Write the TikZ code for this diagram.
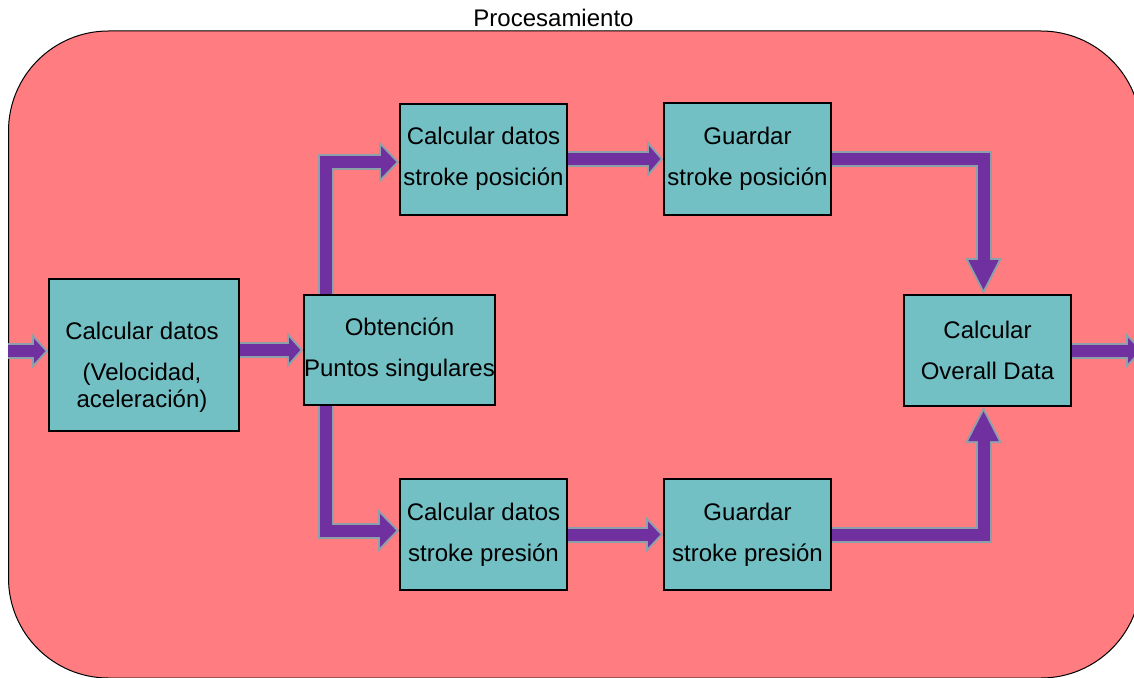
\documentclass[tikz,border=0pt]{standalone}
\usepackage{fontspec}
\setmainfont{Liberation Sans}
\usetikzlibrary{arrows.meta,calc}
\definecolor{bgpink}{RGB}{255,124,128}
\definecolor{boxteal}{RGB}{114,191,196}
\definecolor{arpurple}{RGB}{112,48,160}
\definecolor{argray}{RGB}{140,160,170}
\tikzset{
  procbox/.style={draw=black, line width=2pt, fill=boxteal, inner sep=0pt,
    align=center, font=\fontsize{24}{41}\selectfont},
  garr/.style={draw=argray, line width=16pt, line join=miter},
  parr/.style={draw=arpurple, line width=12pt, line join=miter},
}
\newcommand\barrow[3]{%
  \pgfmathsetmacro\arS{(#1/2)/sqrt((#1/2)^2+(#2)^2)}%
  \pgfmathsetmacro\arD{2/\arS}%
  \pgfmathsetmacro\arL{#2-2-\arD}%
  \pgfmathsetmacro\arW{#1*\arL/#2}%
  \draw[garr, -{Triangle[width=#1pt, length=#2pt, line width=0pt]}] #3;
  \draw[parr, shorten >=\arD pt, -{Triangle[width=\arW pt, length=\arL pt, line width=0pt]}] #3;
}
\begin{document}
\begin{tikzpicture}[x=1pt, y=-1pt]
\useasboundingbox (0,0) rectangle (1134,677);
% outer container
\draw[fill=bgpink, line width=1pt, rounded corners=100pt] (8.5,31) rectangle (1141,678);
\node[anchor=base, font=\fontsize{24}{27}\selectfont] (title) at (553.5,27) {Procesamiento};
% boxes
\node[procbox, minimum width=190pt, minimum height=152pt] (A) at (144,355) {};
\node[font=\fontsize{24}{27}\selectfont, align=center, inner sep=0pt] (At) at (142,367) {Calcular datos\\[14pt](Velocidad,\\aceleración)};
\node[procbox, minimum width=191pt, minimum height=110pt] (B) at (399.5,350) {Obtención\\Puntos singulares};
\node[procbox, minimum width=167pt, minimum height=111pt] (C) at (483.5,159) {Calcular datos\\stroke posición};
\node[procbox, minimum width=167pt, minimum height=112pt] (D) at (747.5,159) {Guardar\\stroke posición};
\node[procbox, minimum width=167pt, minimum height=111pt] (E) at (483.5,534.5) {Calcular datos\\stroke presión};
\node[procbox, minimum width=167pt, minimum height=111pt] (F) at (747.5,534.5) {Guardar\\stroke presión};
\node[procbox, minimum width=167pt, minimum height=111pt] (G) at (987.5,350.5) {Calcular\\Overall Data};
% free ends
\coordinate (in) at (8,351);
\coordinate (out) at (1143,350.5);
% connectors
\barrow{35}{16}{(in) -- (in -| A.west)}
\barrow{36}{16}{(A.east |- B.west) -- (B.west)}
\barrow{42}{20}{([xshift=23pt]B.north west) |- ([yshift=-3pt]C.west)}
\barrow{43}{21}{([xshift=23pt]B.south west) |- ([yshift=4pt]E.west)}
\barrow{37}{16}{(C.east) -- (D.west)}
\barrow{36}{17}{(E.east) -- (F.west)}
\barrow{37}{36}{(D.east) -| ([xshift=-4pt]G.north)}
\barrow{37}{36}{(F.east) -| ([xshift=-4pt]G.south)}
\barrow{35}{17}{(G.east) -- (out)}
\end{tikzpicture}
\end{document}
